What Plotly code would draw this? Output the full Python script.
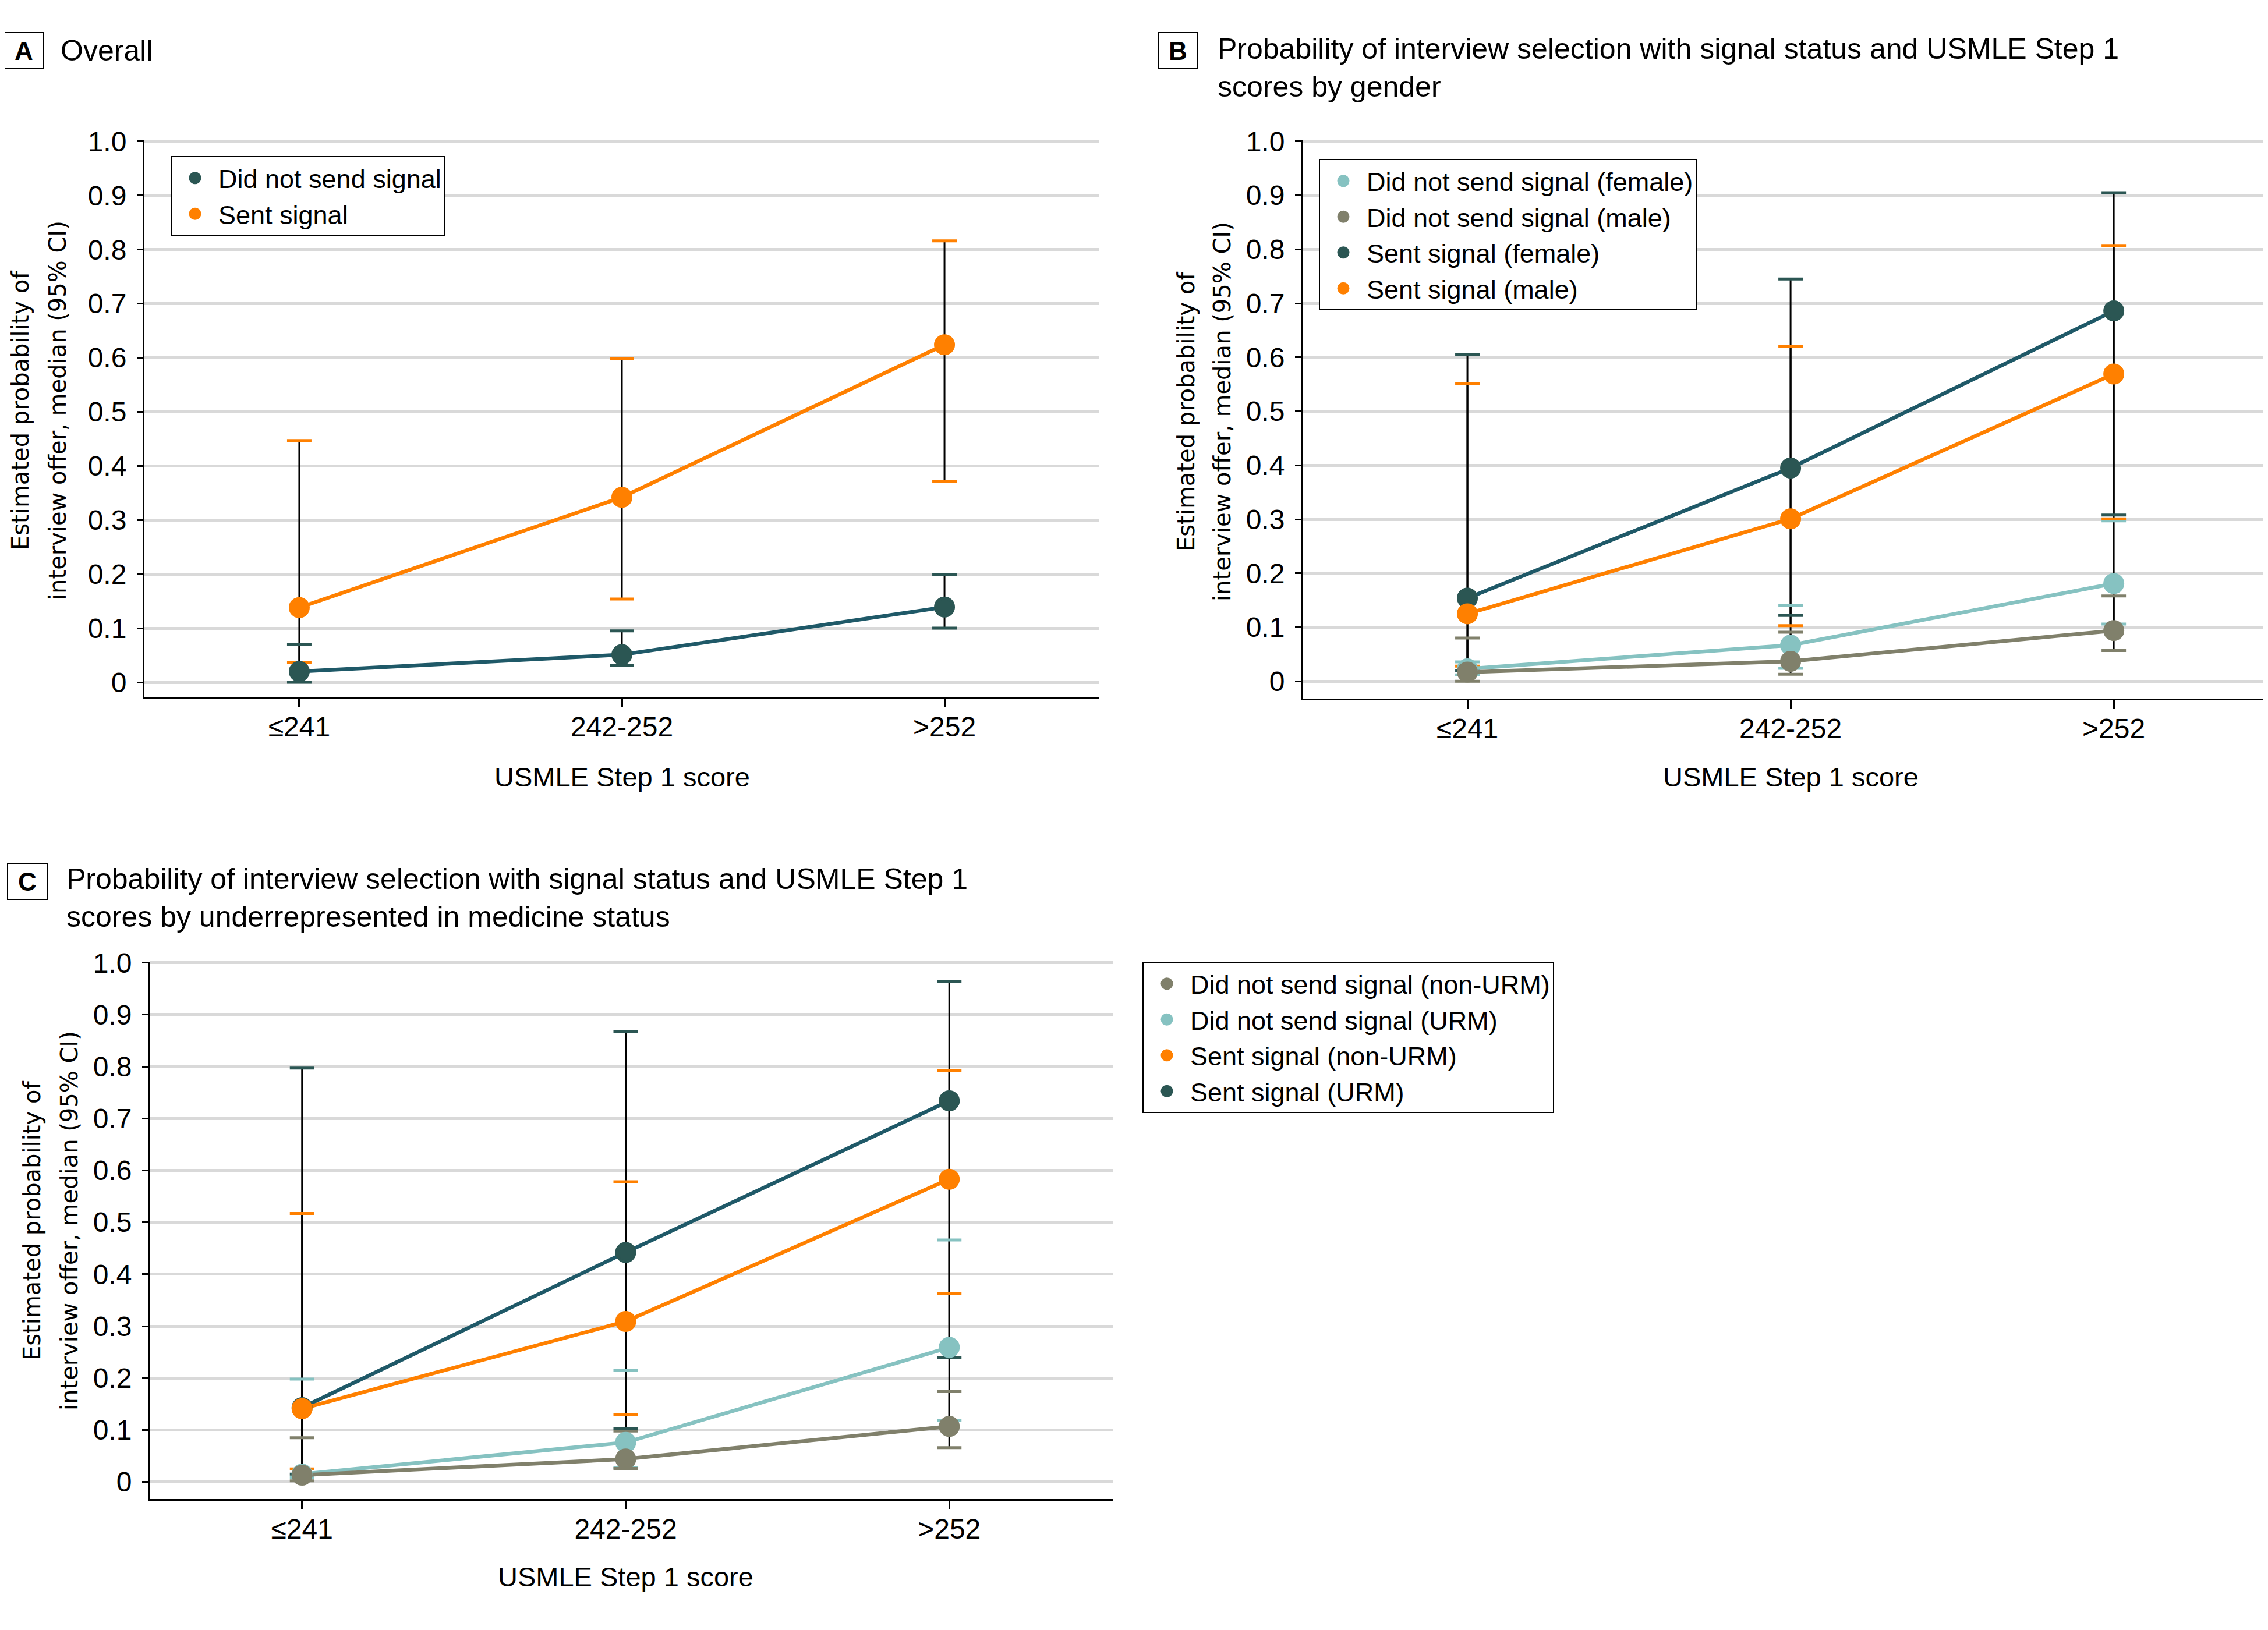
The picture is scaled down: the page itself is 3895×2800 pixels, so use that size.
import plotly.graph_objects as go

# ---------------- data ----------------
categories = ["≤241", "242-252", ">252"]
x_positions = [1, 2, 3]
y_tick_vals = [0, 0.1, 0.2, 0.3, 0.4, 0.5, 0.6, 0.7, 0.8, 0.9, 1.0]
y_tick_text = ["0", "0.1", "0.2", "0.3", "0.4", "0.5", "0.6", "0.7", "0.8", "0.9", "1.0"]

# Panel A: overall
a_nosig_med = [0.020, 0.051, 0.139]
a_nosig_lo = [0.000, 0.031, 0.100]
a_nosig_hi = [0.070, 0.095, 0.199]
a_sig_med = [0.138, 0.342, 0.624]
a_sig_lo = [0.036, 0.154, 0.371]
a_sig_hi = [0.447, 0.598, 0.816]

# Panel B: by gender
b_nosig_f_med = [0.023, 0.067, 0.181]
b_nosig_f_lo = [0.012, 0.024, 0.106]
b_nosig_f_hi = [0.036, 0.141, 0.297]
b_nosig_m_med = [0.017, 0.037, 0.094]
b_nosig_m_lo = [0.000, 0.013, 0.057]
b_nosig_m_hi = [0.080, 0.091, 0.158]
b_sig_f_med = [0.154, 0.395, 0.686]
b_sig_f_lo = [0.020, 0.122, 0.308]
b_sig_f_hi = [0.605, 0.745, 0.905]
b_sig_m_med = [0.125, 0.301, 0.569]
b_sig_m_lo = [0.028, 0.103, 0.301]
b_sig_m_hi = [0.551, 0.620, 0.807]

# Panel C: by URM status
c_nosig_non_med = [0.013, 0.044, 0.107]
c_nosig_non_lo = [0.002, 0.026, 0.066]
c_nosig_non_hi = [0.085, 0.098, 0.174]
c_nosig_urm_med = [0.015, 0.076, 0.259]
c_nosig_urm_lo = [0.008, 0.028, 0.119]
c_nosig_urm_hi = [0.198, 0.215, 0.466]
c_sig_non_med = [0.141, 0.309, 0.583]
c_sig_non_lo = [0.025, 0.129, 0.363]
c_sig_non_hi = [0.517, 0.578, 0.793]
c_sig_urm_med = [0.143, 0.442, 0.734]
c_sig_urm_lo = [0.015, 0.103, 0.240]
c_sig_urm_hi = [0.797, 0.867, 0.964]

# ---------------- styles ----------------
DARK, DARK_LINE = "#2B5653", "#1F5968"
ORANGE = "#FF8000"
LTEAL = "#86C2C1"
TAN = "#80806B"
FONT = "Liberation Sans, Arial, sans-serif"
YFONT = "DejaVu Sans, Verdana, sans-serif"
W, H = 3895, 2800
PAGE_OFFSET = 8  # default page margin around the plot div

fig = go.Figure()


def add_panel(xa, ya, legend, series):
    # series: list of (name, med, lo, hi, color, line_color, rank) in drawing order
    for name, med, lo, hi, col, lcol, rank in series:
        fig.add_trace(go.Scatter(
            x=x_positions, y=med, mode="markers", xaxis=xa, yaxis=ya,
            marker=dict(size=2, opacity=0), showlegend=False, hoverinfo="skip",
            error_y=dict(type="data", symmetric=False,
                         array=[h - m for h, m in zip(hi, med)],
                         arrayminus=[m - l for m, l in zip(med, lo)],
                         color="black", thickness=3, width=0)))
    for name, med, lo, hi, col, lcol, rank in series:
        fig.add_trace(go.Scatter(
            x=x_positions + x_positions, y=hi + lo, mode="markers", xaxis=xa, yaxis=ya,
            marker=dict(symbol="line-ew", size=30, line=dict(width=5, color=col)),
            showlegend=False, hoverinfo="skip"))
    for name, med, lo, hi, col, lcol, rank in series:
        fig.add_trace(go.Scatter(
            x=x_positions, y=med, mode="lines", xaxis=xa, yaxis=ya,
            line=dict(color=lcol, width=6.5), showlegend=False, hoverinfo="skip"))
    for name, med, lo, hi, col, lcol, rank in series:
        fig.add_trace(go.Scatter(
            x=x_positions, y=med, mode="markers", xaxis=xa, yaxis=ya, name=name,
            marker=dict(size=31, color=col, line=dict(width=5, color=col)),
            legend=legend, legendrank=rank, showlegend=True))


add_panel("x", "y", "legend", [
    ("Did not send signal", a_nosig_med, a_nosig_lo, a_nosig_hi, DARK, DARK_LINE, 1),
    ("Sent signal", a_sig_med, a_sig_lo, a_sig_hi, ORANGE, ORANGE, 2),
])
add_panel("x2", "y2", "legend2", [
    ("Did not send signal (female)", b_nosig_f_med, b_nosig_f_lo, b_nosig_f_hi, LTEAL, LTEAL, 1),
    ("Did not send signal (male)", b_nosig_m_med, b_nosig_m_lo, b_nosig_m_hi, TAN, TAN, 2),
    ("Sent signal (female)", b_sig_f_med, b_sig_f_lo, b_sig_f_hi, DARK, DARK_LINE, 3),
    ("Sent signal (male)", b_sig_m_med, b_sig_m_lo, b_sig_m_hi, ORANGE, ORANGE, 4),
])
add_panel("x3", "y3", "legend3", [
    ("Did not send signal (URM)", c_nosig_urm_med, c_nosig_urm_lo, c_nosig_urm_hi, LTEAL, LTEAL, 2),
    ("Did not send signal (non-URM)", c_nosig_non_med, c_nosig_non_lo, c_nosig_non_hi, TAN, TAN, 1),
    ("Sent signal (URM)", c_sig_urm_med, c_sig_urm_lo, c_sig_urm_hi, DARK, DARK_LINE, 4),
    ("Sent signal (non-URM)", c_sig_non_med, c_sig_non_lo, c_sig_non_hi, ORANGE, ORANGE, 3),
])


def px_x(p):
    return (p - PAGE_OFFSET) / W


def px_y(p):
    return 1 - (p - PAGE_OFFSET) / H


def xaxis(dom, rng, anchor):
    return dict(domain=dom, range=rng, anchor=anchor, tickvals=x_positions, ticktext=categories,
                showline=True, linecolor="black", linewidth=3, ticks="outside", ticklen=15,
                tickwidth=3, tickcolor="black", showgrid=False, zeroline=False, automargin=False,
                tickfont=dict(family=FONT, size=48, color="black"), ticklabelstandoff=-8)


def yaxis(dom, rng, anchor):
    return dict(domain=dom, range=rng, anchor=anchor, tickvals=y_tick_vals, ticktext=y_tick_text,
                showline=True, linecolor="black", linewidth=3, ticks="outside", ticklen=10,
                tickwidth=3, tickcolor="black", showgrid=True, gridcolor="#D9D9D9", gridwidth=5,
                zeroline=False, automargin=False,
                tickfont=dict(family=FONT, size=48, color="black"), ticklabelstandoff=8)


legend_style = dict(xanchor="left", yanchor="top", bgcolor="white", bordercolor="black",
                    borderwidth=2, font=dict(family=FONT, size=45, color="black"),
                    itemsizing="trace", tracegroupgap=0, itemwidth=70)

fig.update_layout(
    width=W, height=H, margin=dict(l=0, r=0, t=0, b=0, autoexpand=False),
    paper_bgcolor="white", plot_bgcolor="white",
    xaxis=xaxis([px_x(248), px_x(1888)], [0.52, 3.48], "y"),
    yaxis=yaxis([px_y(1197), px_y(241)], [-0.0269, 1.002], "x"),
    xaxis2=xaxis([px_x(2237), px_x(3891)], [0.49, 3.47], "y2"),
    yaxis2=yaxis([px_y(1200), px_y(241)], [-0.032, 1.002], "x2"),
    xaxis3=xaxis([px_x(257), px_x(1912)], [0.529, 3.507], "y3"),
    yaxis3=yaxis([px_y(2575), px_y(1652)], [-0.033, 1.002], "x3"),
    legend=dict(x=px_x(293), y=px_y(268), **legend_style),
    legend2=dict(x=px_x(2265), y=px_y(273), **legend_style),
    legend3=dict(x=px_x(1962), y=px_y(1652), **legend_style),
    showlegend=True,
)

ann = []
# panel letters
for letter, cx, cy in [("A", 41, 87), ("B", 2023, 87), ("C", 47, 1514)]:
    ann.append(dict(text="<b>%s</b>" % letter, x=px_x(cx), y=px_y(cy), xref="paper", yref="paper",
                    xanchor="center", yanchor="middle", showarrow=False,
                    font=dict(family=FONT, size=44, color="black"),
                    bordercolor="black", borderwidth=2, borderpad=4, width=58, height=52))
# panel titles
ann.append(dict(text="Overall", x=px_x(102), y=px_y(87), xref="paper", yref="paper",
                xanchor="left", yanchor="middle", showarrow=False,
                font=dict(family=FONT, size=50, color="black")))
ann.append(dict(text="Probability of interview selection with signal status and USMLE Step 1<br>scores by gender",
                x=px_x(2089), y=px_y(117), xref="paper", yref="paper", align="left",
                xanchor="left", yanchor="middle", showarrow=False,
                font=dict(family=FONT, size=50, color="black")))
ann.append(dict(text="Probability of interview selection with signal status and USMLE Step 1<br>scores by underrepresented in medicine status",
                x=px_x(112), y=px_y(1542), xref="paper", yref="paper", align="left",
                xanchor="left", yanchor="middle", showarrow=False,
                font=dict(family=FONT, size=50, color="black")))
# y axis titles (two lines each)
for x1, x2, cy in [(35, 99, 705), (2037, 2099, 707), (55, 119, 2097)]:
    for txt, cx in [("Estimated probability of", x1), ("interview offer, median (95% CI)", x2)]:
        ann.append(dict(text=txt, x=px_x(cx), y=px_y(cy), xref="paper", yref="paper",
                        xanchor="center", yanchor="middle", textangle=-90, showarrow=False,
                        font=dict(family=YFONT, size=40, color="black")))
# x axis titles
for xr, cy in [("x", 1334), ("x2", 1334), ("x3", 2708)]:
    ann.append(dict(text="USMLE Step 1 score", x=2, y=px_y(cy), xref=xr, yref="paper",
                    xanchor="center", yanchor="middle", showarrow=False,
                    font=dict(family=FONT, size=47, color="black")))
fig.update_layout(annotations=ann)

fig.write_html("out.html")
